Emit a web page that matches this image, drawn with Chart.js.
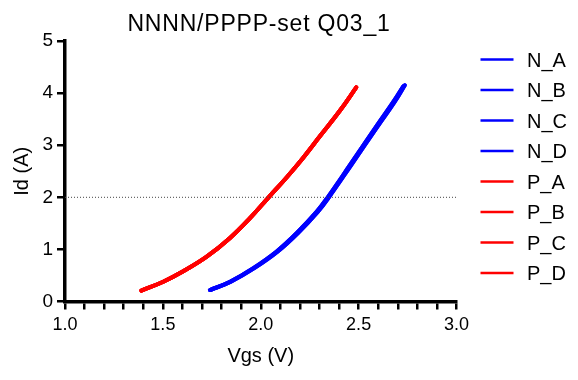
<!DOCTYPE html>
<html>
<head>
<meta charset="utf-8">
<script src="https://cdn.jsdelivr.net/npm/chart.js@4"></script>
<style>
  html, body { margin: 0; padding: 0; background: #fff; }
  #wrap { width: 578px; height: 380px; position: relative; }
</style>
</head>
<body>
<div id="wrap"><canvas id="c" width="578" height="380"></canvas></div>
<script>
const chartTitle = 'NNNN/PPPP-set Q03_1';
const xTitle = 'Vgs (V)';
const yTitle = 'Id (A)';
const seriesNames = ['N_A', 'N_B', 'N_C', 'N_D', 'P_A', 'P_B', 'P_C', 'P_D'];
const seriesColors = ['#0000ff', '#0000ff', '#0000ff', '#0000ff', '#ff0000', '#ff0000', '#ff0000', '#ff0000'];

const nVgsAB = [1.740, 1.843, 1.962, 2.081, 2.183, 2.285, 2.342, 2.456, 2.592, 2.677, 2.728];
const nIdAB  = [0.22, 0.38, 0.64, 0.96, 1.31, 1.72, 2.00, 2.62, 3.37, 3.83, 4.13];
const nVgsCD = [1.743, 1.847, 1.967, 2.087, 2.189, 2.291, 2.348, 2.462, 2.599, 2.684, 2.736];
const nIdCD  = [0.22, 0.38, 0.64, 0.96, 1.31, 1.72, 2.00, 2.62, 3.37, 3.83, 4.15];
const pVgs = [1.390, 1.502, 1.604, 1.724, 1.843, 1.945, 2.038, 2.132, 2.217, 2.302, 2.404, 2.488];
const pId  = [0.21, 0.38, 0.58, 0.86, 1.22, 1.60, 1.99, 2.38, 2.76, 3.17, 3.66, 4.11];

const refVgs = [1.0, 3.0];
const refId = [2, 2];

const xTicks = [1.0, 1.5, 2.0, 2.5, 3.0];
const yTicks = [0, 1, 2, 3, 4, 5];

const seriesX = [nVgsAB, nVgsAB, nVgsCD, nVgsCD, pVgs, pVgs, pVgs, pVgs];
const seriesY = [nIdAB, nIdAB, nIdCD, nIdCD, pId, pId, pId, pId];

const toPts = (xs, ys) => xs.map((x, i) => ({ x: x, y: ys[i] }));

const datasets = seriesNames.map((name, i) => ({
  label: name,
  data: toPts(seriesX[i], seriesY[i]),
  borderColor: seriesColors[i],
  backgroundColor: seriesColors[i],
  borderWidth: 4,
  borderCapStyle: 'round',
  pointRadius: 0,
  tension: 0.4,
  fill: false,
  showInLegend: true
}));
datasets.unshift({
  label: 'ref',
  data: toPts(refVgs, refId),
  borderColor: '#444',
  borderWidth: 1,
  borderDash: [1, 2],
  pointRadius: 0,
  fill: false,
  showInLegend: false
});

const FONT = '"Liberation Sans", Arial, Helvetica, sans-serif';

const customDraw = {
  id: 'customDraw',
  afterDraw(chart) {
    const ctx = chart.ctx;
    ctx.save();
    ctx.fillStyle = '#000';
    ctx.font = '23px ' + FONT;
    ctx.textAlign = 'center';
    ctx.textBaseline = 'alphabetic';
    try { ctx.letterSpacing = '0.8px'; } catch (e) {}
    ctx.fillText(chartTitle, 259, 30.5);
    try { ctx.letterSpacing = '0px'; } catch (e) {}
    const startY = 59.5, step = 30.5;
    let k = 0;
    chart.data.datasets.forEach(ds => {
      if (!ds.showInLegend) return;
      const cy = startY + k * step;
      ctx.strokeStyle = ds.borderColor;
      ctx.lineWidth = 2.5;
      ctx.beginPath();
      ctx.moveTo(480.5, cy);
      ctx.lineTo(513.5, cy);
      ctx.stroke();
      ctx.fillStyle = '#000';
      ctx.font = '20px ' + FONT;
      ctx.textAlign = 'left';
      ctx.textBaseline = 'alphabetic';
      ctx.fillText(ds.label, 527, cy + 7.3);
      k++;
    });
    ctx.restore();
  }
};

new Chart(document.getElementById('c'), {
  type: 'line',
  data: { datasets: datasets },
  options: {
    responsive: false,
    animation: false,
    devicePixelRatio: 1,
    layout: { padding: { left: 0, top: 41, right: 121.5, bottom: 0 } },
    plugins: {
      legend: { display: false },
      title: { display: false },
      tooltip: { enabled: false }
    },
    scales: {
      x: {
        type: 'linear',
        min: 1, max: 3,
        afterFit(scale) { scale.height = 78.5; },
        afterBuildTicks(scale) {
          const t = [];
          for (let i = 0; i <= 20; i++) t.push({ value: Math.round((1 + i * 0.1) * 10) / 10 });
          scale.ticks = t;
        },
        ticks: {
          autoSkip: false,
          maxRotation: 0,
          padding: 5,
          color: '#000',
          font: { family: FONT, size: 18 },
          callback: (v) => {
            const m = xTicks.find(t => Math.abs(t - v) < 1e-6);
            return m !== undefined ? m.toFixed(1) : '';
          }
        },
        grid: { display: true, drawOnChartArea: false, drawTicks: true, tickLength: 8, color: '#000', lineWidth: 2.5 },
        border: { display: true, color: '#000', width: 3.5 },
        title: { display: true, text: xTitle, color: '#000', font: { family: FONT, size: 20 }, padding: { top: 0, bottom: 12 } }
      },
      y: {
        type: 'linear',
        min: 0, max: 5,
        afterFit(scale) { scale.width = 65; },
        afterBuildTicks(scale) { scale.ticks = yTicks.map(v => ({ value: v })); },
        ticks: {
          padding: 4,
          color: '#000',
          font: { family: FONT, size: 19 },
          callback: (v) => String(v)
        },
        grid: { display: true, drawOnChartArea: false, drawTicks: true, tickLength: 8, color: '#000', lineWidth: 2.5 },
        border: { display: true, color: '#000', width: 3.5 },
        title: { display: true, text: yTitle, color: '#000', font: { family: FONT, size: 20 }, padding: { top: 10, bottom: 0 } }
      }
    }
  },
  plugins: [customDraw]
});
</script>
</body>
</html>
